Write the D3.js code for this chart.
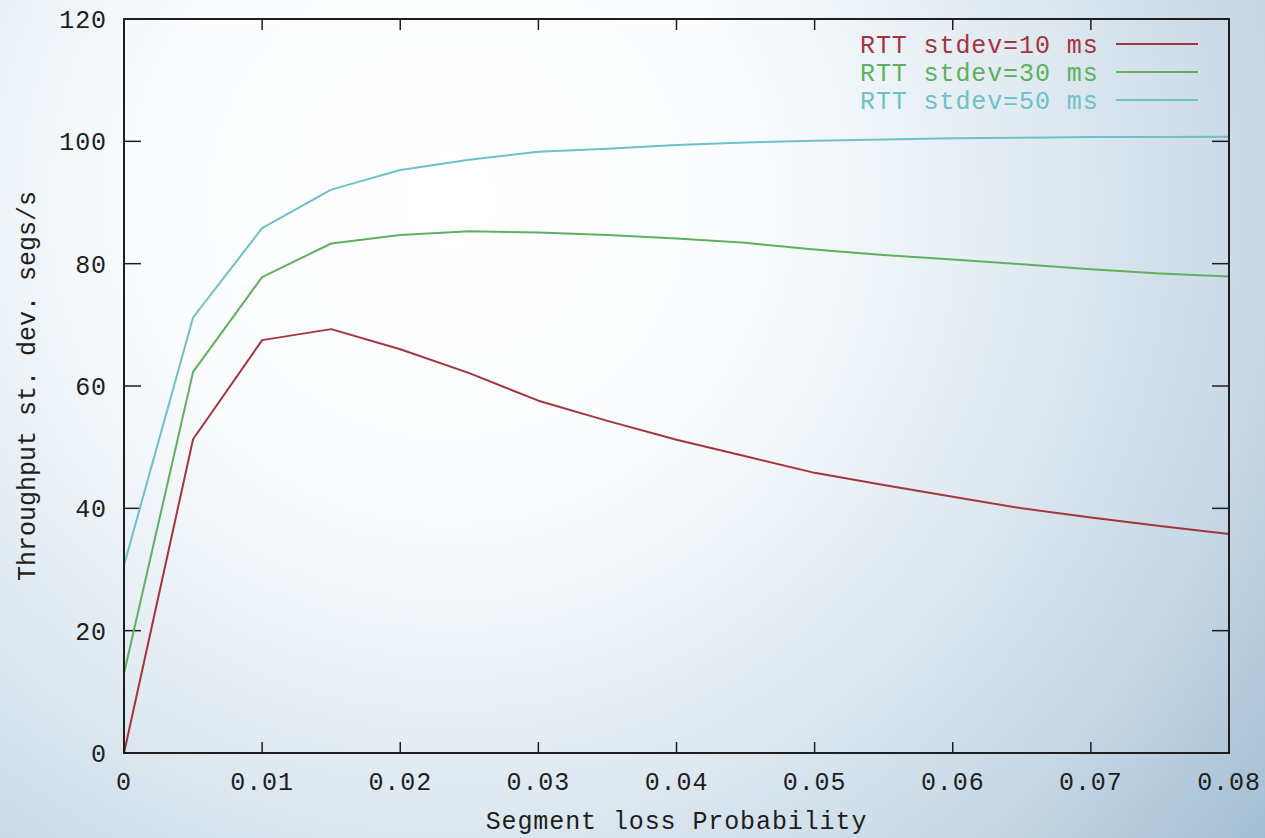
<!DOCTYPE html>
<html>
<head>
<meta charset="utf-8">
<script src="https://cdn.jsdelivr.net/npm/d3@7"></script>
<style>
  html, body { margin: 0; padding: 0; overflow: hidden; }
  text { font-family: "Liberation Mono", "DejaVu Sans Mono", monospace; font-size: 25px; letter-spacing: 0.9px; fill: #1e1e1e; }
</style>
</head>
<body>
<script>
// segment loss probability
const lossProb = [0, 0.005, 0.01, 0.015, 0.02, 0.025, 0.03, 0.035, 0.04, 0.045, 0.05, 0.055, 0.06, 0.065, 0.07, 0.075, 0.08];
// throughput st. dev. per RTT stdev
const rtt10 = [0, 51.3, 67.5, 69.3, 66.0, 62.1, 57.6, 54.3, 51.2, 48.5, 45.8, 43.8, 41.9, 40.0, 38.5, 37.1, 35.8];
const rtt30 = [13.0, 62.3, 77.8, 83.3, 84.7, 85.3, 85.1, 84.7, 84.1, 83.4, 82.3, 81.4, 80.7, 79.9, 79.1, 78.4, 77.9];
const rtt50 = [30.7, 71.2, 85.8, 92.1, 95.3, 97.0, 98.3, 98.8, 99.4, 99.8, 100.1, 100.3, 100.5, 100.6, 100.7, 100.7, 100.75];
const seriesNames = ["RTT stdev=10 ms", "RTT stdev=30 ms", "RTT stdev=50 ms"];
const seriesColors = ["#a6343d", "#5eb15e", "#6dc1c7"];
const xTicks = [0, 0.01, 0.02, 0.03, 0.04, 0.05, 0.06, 0.07, 0.08];
const yTicks = [0, 20, 40, 60, 80, 100, 120];

const width = 1265, height = 838;
const plotLeft = 124, plotRight = 1229, plotTop = 19, plotBottom = 753;

const svg = d3.select("body").append("svg")
    .attr("width", width)
    .attr("height", height);

// slide-like background
const defs = svg.append("defs");
const grad = defs.append("radialGradient")
    .attr("id", "bg")
    .attr("gradientUnits", "userSpaceOnUse")
    .attr("cx", 450).attr("cy", 200).attr("r", 1040)
    .attr("fx", 450).attr("fy", 200);
grad.append("stop").attr("offset", 0).attr("stop-color", "#ffffff");
grad.append("stop").attr("offset", 0.3).attr("stop-color", "#fafcfe");
grad.append("stop").attr("offset", 0.55).attr("stop-color", "#e2ebf2");
grad.append("stop").attr("offset", 0.78).attr("stop-color", "#c8d9e6");
grad.append("stop").attr("offset", 0.9).attr("stop-color", "#b4cadc");
grad.append("stop").attr("offset", 1).attr("stop-color", "#a2bed5");

svg.append("rect")
    .attr("width", width).attr("height", height)
    .attr("fill", "url(#bg)");

const x = d3.scaleLinear().domain([0, 0.08]).range([plotLeft, plotRight]);
const y = d3.scaleLinear().domain([0, 120]).range([plotBottom, plotTop]);

// ticks, mirrored on all four sides, pointing inward
const tickG = svg.append("g").attr("stroke", "#1e1e1e").attr("stroke-width", 1.5);
xTicks.slice(1, -1).forEach(t => {
  tickG.append("line").attr("x1", x(t)).attr("x2", x(t)).attr("y1", plotBottom).attr("y2", plotBottom - 11);
  tickG.append("line").attr("x1", x(t)).attr("x2", x(t)).attr("y1", plotTop).attr("y2", plotTop + 11);
});
yTicks.slice(1, -1).forEach(t => {
  tickG.append("line").attr("x1", plotLeft).attr("x2", plotLeft + 17).attr("y1", y(t)).attr("y2", y(t));
  tickG.append("line").attr("x1", plotRight).attr("x2", plotRight - 17).attr("y1", y(t)).attr("y2", y(t));
});

// tick labels
svg.append("g").selectAll("text")
    .data(xTicks)
    .enter().append("text")
    .attr("x", d => x(d))
    .attr("y", 790)
    .attr("text-anchor", "middle")
    .text(d => d3.format("")(d));

svg.append("g").selectAll("text")
    .data(yTicks)
    .enter().append("text")
    .attr("x", 107)
    .attr("y", d => y(d))
    .attr("dy", "0.36em")
    .attr("text-anchor", "end")
    .text(d => d);

// axis titles
svg.append("text")
    .attr("x", (plotLeft + plotRight) / 2)
    .attr("y", 829)
    .attr("text-anchor", "middle")
    .text("Segment loss Probability");

svg.append("text")
    .attr("transform", `translate(35, ${(plotTop + plotBottom) / 2}) rotate(-90)`)
    .attr("text-anchor", "middle")
    .style("letter-spacing", "0px")
    .text("Throughput st. dev. segs/s");

// curves
const allSeries = [rtt10, rtt30, rtt50];
const line = d3.line()
    .x((d, i) => x(lossProb[i]))
    .y(d => y(d));

svg.append("g").selectAll("path")
    .data(allSeries)
    .enter().append("path")
    .attr("fill", "none")
    .attr("stroke", (d, i) => seriesColors[i])
    .attr("stroke-width", 2)
    .attr("stroke-linejoin", "round")
    .attr("d", line);

// legend
const legend = svg.append("g").selectAll("g")
    .data(seriesNames)
    .enter().append("g")
    .attr("transform", (d, i) => `translate(0, ${44 + i * 28})`);

legend.append("text")
    .attr("x", 860)
    .attr("dy", "0.36em")
    .style("fill", (d, i) => seriesColors[i])
    .text(d => d);

legend.append("line")
    .attr("x1", 1116).attr("x2", 1198)
    .attr("stroke", (d, i) => seriesColors[i])
    .attr("stroke-width", 2);

// frame
svg.append("rect")
    .attr("x", plotLeft).attr("y", plotTop)
    .attr("width", plotRight - plotLeft).attr("height", plotBottom - plotTop)
    .attr("fill", "none")
    .attr("stroke", "#1e1e1e")
    .attr("stroke-width", 2);
</script>
</body>
</html>
